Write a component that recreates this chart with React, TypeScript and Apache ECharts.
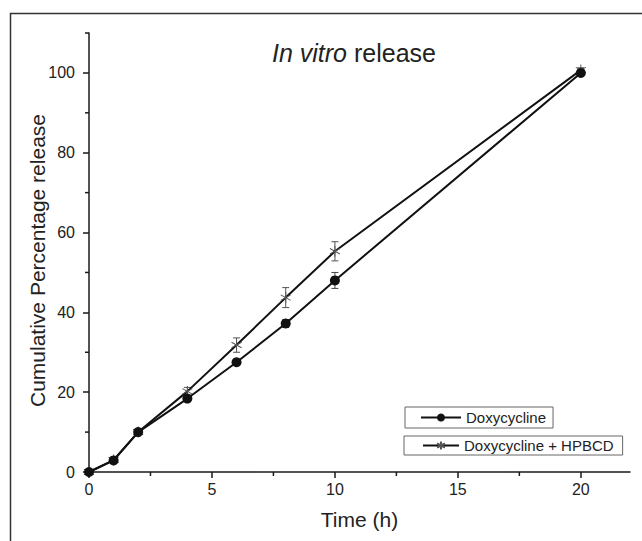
import React, { useEffect, useRef } from "react";
import * as echarts from "echarts";

const timeH = [0, 1, 2, 4, 6, 8, 10, 20];
const doxy = [0, 2.9, 10, 18.4, 27.5, 37.2, 48, 100];
const doxyErr = [0, 0.5, 0.6, 0.8, 0.8, 1.0, 2.0, 0.5];
const hpbcd = [0, 3, 10, 20.2, 31.8, 43.7, 55.3, 100.7];
const hpbcdErr = [0, 0.5, 0.6, 1.0, 1.8, 2.5, 2.4, 0.6];
const xMajor = [0, 5, 10, 15, 20];
const xMinor = [2.5, 7.5, 12.5, 17.5];
const yMajor = [0, 20, 40, 60, 80, 100];
const yMinor = [10, 30, 50, 70, 90, 110];
const seriesNames = ["Doxycycline", "Doxycycline + HPBCD"];

const FONT = "'Liberation Sans', Arial, Helvetica, sans-serif";
const ASTERISK = "path://M0,-10L0,10M-8.66,-5L8.66,5M-8.66,5L8.66,-5";

function errorSeries(values: number[], errs: number[], color: string) {
  return {
    type: "custom",
    silent: true,
    z: 1,
    xAxisIndex: 0,
    yAxisIndex: 0,
    data: timeH.map((t, i) => [t, values[i] - errs[i], values[i] + errs[i]]),
    encode: { x: 0, y: [1, 2] },
    renderItem: (params: any, api: any) => {
      const x = api.value(0);
      const lo = api.coord([x, api.value(1)]);
      const hi = api.coord([x, api.value(2)]);
      const w = 3.5;
      const style = { stroke: color, lineWidth: 1 };
      return {
        type: "group",
        children: [
          { type: "line", shape: { x1: lo[0], y1: lo[1], x2: hi[0], y2: hi[1] }, style },
          { type: "line", shape: { x1: lo[0] - w, y1: lo[1], x2: lo[0] + w, y2: lo[1] }, style },
          { type: "line", shape: { x1: hi[0] - w, y1: hi[1], x2: hi[0] + w, y2: hi[1] }, style },
        ],
      };
    },
  };
}

function minorTickSeries(values: number[], dir: "x" | "y") {
  return {
    type: "custom",
    silent: true,
    clip: false,
    z: 5,
    xAxisIndex: 0,
    yAxisIndex: 0,
    data: values.map((v) => (dir === "x" ? [v, 0] : [0, v])),
    encode: { x: 0, y: 1 },
    renderItem: (params: any, api: any) => {
      const p = api.coord([api.value(0), api.value(1)]);
      const style = { stroke: "#1a1a1a", lineWidth: 1.5 };
      return dir === "x"
        ? { type: "line", shape: { x1: p[0], y1: p[1], x2: p[0], y2: p[1] + 4 }, style }
        : { type: "line", shape: { x1: p[0], y1: p[1], x2: p[0] - 4, y2: p[1] }, style };
    },
  };
}

export default function App() {
  const ref = useRef<HTMLDivElement>(null);
  useEffect(() => {
    if (!ref.current) return;
    const chart = echarts.init(ref.current, null, { renderer: "svg" });
    const axisText = { color: "#222", fontSize: 16, fontFamily: FONT };
    const lineBlack = { color: "#1a1a1a", width: 1.5 };
    chart.setOption({
      animation: false,
      backgroundColor: "#fff",
      textStyle: { fontFamily: FONT },
      title: {
        text: "{i|In vitro} release",
        left: 267,
        top: 35,
        textStyle: {
          fontSize: 25,
          fontWeight: "normal",
          color: "#222",
          fontFamily: FONT,
          rich: {
            i: { fontStyle: "italic", fontSize: 25, color: "#222", fontFamily: FONT },
          },
        },
      },
      graphic: [
        {
          type: "polyline",
          shape: { points: [[10.5, 541], [10.5, 13.5], [642, 13.5]] },
          style: { fill: "none", stroke: "#333", lineWidth: 1.5 },
          silent: true,
          z: 0,
        },
      ],
      legend: [
        {
          data: [seriesNames[0]],
          left: 405,
          top: 407,
          orient: "horizontal",
          itemWidth: 40,
          itemHeight: 10,
          itemGap: 4,
          padding: [3, 7, 3, 15],
          borderColor: "#666",
          borderWidth: 1,
          textStyle: { fontSize: 15, color: "#222", fontFamily: FONT },
        },
        {
          data: [seriesNames[1]],
          left: 404,
          top: 436,
          orient: "horizontal",
          itemWidth: 36,
          itemHeight: 10,
          itemGap: 4,
          padding: [2, 9, 2, 18],
          borderColor: "#666",
          borderWidth: 1,
          textStyle: { fontSize: 15, color: "#222", fontFamily: FONT },
        },
      ],
      grid: { left: 89, right: 12, top: 33, bottom: 69, containLabel: false },
      xAxis: {
        type: "value",
        min: 0,
        max: 22,
        interval: 5,
        name: "Time (h)",
        nameLocation: "middle",
        nameGap: 37,
        nameMoveOverlap: false,
        nameTextStyle: { fontSize: 21, color: "#222", fontFamily: FONT },
        axisLine: { show: true, lineStyle: lineBlack },
        axisTick: { show: true, length: 6, inside: false, customValues: xMajor, lineStyle: lineBlack },
        axisLabel: { ...axisText, margin: 9, customValues: xMajor },
        splitLine: { show: false },
      },
      yAxis: {
        type: "value",
        min: 0,
        max: 110,
        interval: 10,
        name: "Cumulative Percentage release",
        nameLocation: "middle",
        nameGap: 41,
        nameMoveOverlap: false,
        nameTextStyle: { fontSize: 21, color: "#222", fontFamily: FONT, padding: [0, 16, 0, 0] },
        axisLine: { show: true, lineStyle: lineBlack },
        axisTick: { show: true, length: 6, customValues: yMajor, lineStyle: lineBlack },
        axisLabel: { ...axisText, margin: 14, customValues: yMajor },
        splitLine: { show: false },
      },
      series: [
        minorTickSeries(xMinor, "x"),
        minorTickSeries(yMinor, "y"),
        errorSeries(doxy, doxyErr, "#444"),
        errorSeries(hpbcd, hpbcdErr, "#555"),
        {
          name: seriesNames[0],
          type: "line",
          z: 3,
          data: timeH.map((t, i) => [t, doxy[i]]),
          symbol: "circle",
          symbolSize: 10,
          showSymbol: true,
          lineStyle: { color: "#111", width: 2 },
          itemStyle: { color: "#111", borderWidth: 0 },
        },
        {
          name: seriesNames[1],
          type: "line",
          z: 2,
          data: timeH.map((t, i) => [t, hpbcd[i]]),
          symbol: ASTERISK,
          symbolSize: [10, 11],
          showSymbol: true,
          lineStyle: { color: "#111", width: 2 },
          itemStyle: { color: "#555", borderColor: "#555", borderWidth: 1 },
        },
      ],
    });
    return () => chart.dispose();
  }, []);
  return (
    <div
      ref={ref}
      style={{
        position: "fixed",
        left: 0,
        top: 0,
        width: 642,
        height: 541,
        background: "#fff",
        overflow: "hidden",
      }}
    />
  );
}
